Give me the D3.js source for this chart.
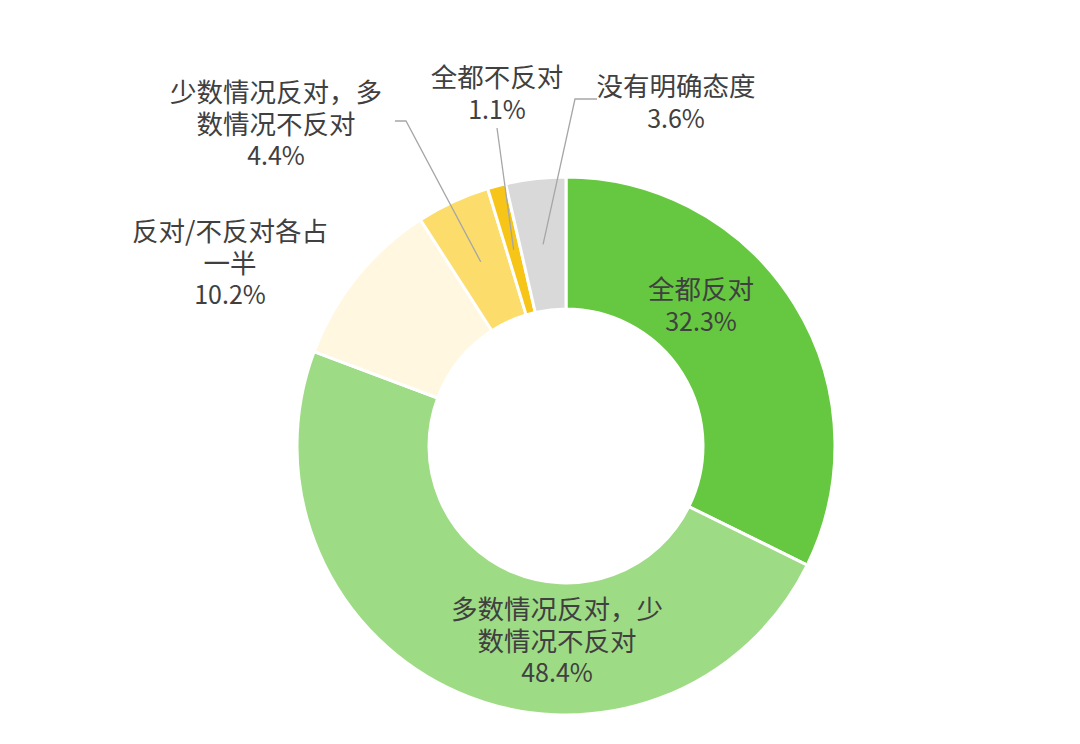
<!DOCTYPE html>
<html>
<head>
<meta charset="utf-8">
<script src="https://cdn.jsdelivr.net/npm/d3@7"></script>
<style>
  body { margin: 0; background: #fff; }
</style>
</head>
<body>
<script>
var categories = ["全都反对", "多数情况反对，少数情况不反对", "反对/不反对各占一半",
                  "少数情况反对，多数情况不反对", "全都不反对", "没有明确态度"];
var values = [32.3, 48.4, 10.2, 4.4, 1.1, 3.6];
var labelLines = [
  ["全都反对"],
  ["多数情况反对，少", "数情况不反对"],
  ["反对/不反对各占", "一半"],
  ["少数情况反对，多", "数情况不反对"],
  ["全都不反对"],
  ["没有明确态度"]
];
var colors = ["#66c840", "#9edb85", "#fff7e0", "#fcdd6c", "#f7c518", "#d9d9d9"];

var width = 1080, height = 744;
var cx = 566, cy = 446;
var outerR = 269, innerR = 137;
var fontSize = 26.5, numSize = 25, lineH = 31.5;

// where each label block sits (centre x, first baseline y), and its leader line elbow
var labelPos = [
  { x: 701, y: 299 },
  { x: 557, y: 619 },
  { x: 230, y: 241 },
  { x: 276, y: 102 },
  { x: 497, y: 87 },
  { x: 676, y: 96 }
];
var leaders = [null, null, null,
  [[395, 121], [406, 121]],
  [[497, 128]],
  [[597, 99], [575, 99]]
];

var svg = d3.select('body')
  .append('svg')
  .attr('width', width)
  .attr('height', height);

var pie = d3.pie().sort(null).value(function(d) { return d; });
var arc = d3.arc().innerRadius(innerR).outerRadius(outerR);
var midArc = d3.arc().innerRadius((innerR + outerR) / 2).outerRadius((innerR + outerR) / 2);

var g = svg.append('g')
  .attr('transform', 'translate(' + cx + ',' + cy + ')');

var arcs = pie(values);

g.selectAll('path')
  .data(arcs)
  .enter()
  .append('path')
  .attr('d', arc)
  .attr('fill', function(d, i) { return colors[i]; })
  .attr('stroke', '#fff')
  .attr('stroke-width', 3)
  .attr('stroke-linejoin', 'miter');

// leader lines for the small slices
var line = d3.line();
arcs.forEach(function(d, i) {
  if (!leaders[i]) return;
  var c = midArc.centroid(d);
  var pts = leaders[i].slice();
  pts.push([c[0] + cx, c[1] + cy]);
  svg.append('path')
    .attr('d', line(pts))
    .attr('fill', 'none')
    .attr('stroke', '#a6a6a6')
    .attr('stroke-width', 1.3);
});

// labels
arcs.forEach(function(d, i) {
  var t = svg.append('text')
    .attr('text-anchor', 'middle')
    .attr('fill', '#404040')
    .style('font-family', '"Noto Sans CJK SC", sans-serif')
    .style('font-size', fontSize + 'px');
  var lines = labelLines[i].concat([values[i].toFixed(1) + '%']);
  lines.forEach(function(s, k) {
    t.append('tspan')
      .attr('x', labelPos[i].x)
      .attr('y', labelPos[i].y + k * lineH)
      .style('font-size', (k == lines.length - 1 ? numSize : fontSize) + 'px')
      .text(s);
  });
});
</script>
</body>
</html>
